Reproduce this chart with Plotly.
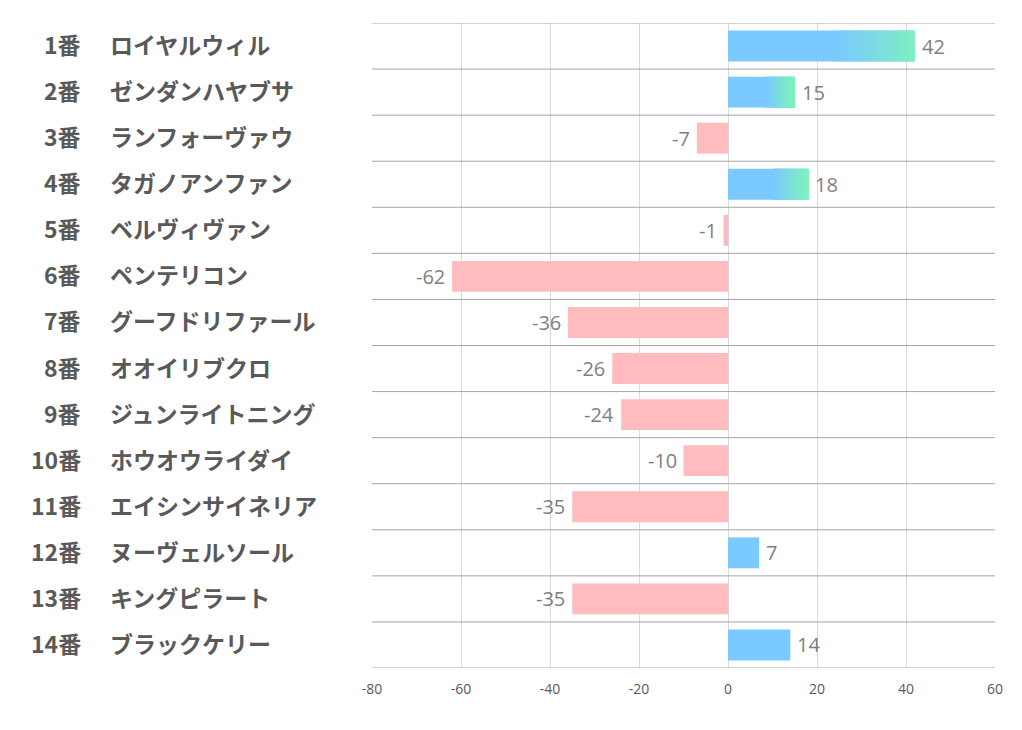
import plotly.graph_objects as go

numbers = ["1番", "2番", "3番", "4番", "5番", "6番", "7番", "8番", "9番", "10番", "11番", "12番", "13番", "14番"]
names = ["ロイヤルウィル", "ゼンダンハヤブサ", "ランフォーヴァウ", "タガノアンファン", "ベルヴィヴァン",
         "ペンテリコン", "グーフドリファール", "オオイリブクロ", "ジュンライトニング", "ホウオウライダイ",
         "エイシンサイネリア", "ヌーヴェルソール", "キングピラート", "ブラックケリー"]
values = [42, 15, -7, 18, -1, -62, -36, -26, -24, -10, -35, 7, -35, 14]
gradient_flag = [True, True, False, True, False, False, False, False, False, False, False, False, False, False]
x_ticks = [-80, -60, -40, -20, 0, 20, 40, 60]

BLUE = (122, 201, 255)
GREEN = (125, 243, 184)
PINK = "#FFBBBE"
BAR_W = 0.67

ypos = list(range(len(values)))
fig = go.Figure()

colors = ["rgb(%d,%d,%d)" % BLUE if v >= 0 else PINK for v in values]
fig.add_trace(go.Bar(
    y=ypos, x=values, orientation="h", width=BAR_W,
    marker=dict(color=colors, line=dict(width=0)),
    hoverinfo="skip", showlegend=False,
))

# gradient overlay segments for highlighted bars
N = 40
start_frac = 0.57
for i, (v, g) in enumerate(zip(values, gradient_flag)):
    if not g:
        continue
    seg_y, seg_x, seg_base, seg_c = [], [], [], []
    for k in range(N):
        f0 = start_frac + (1 - start_frac) * k / N
        f1 = start_frac + (1 - start_frac) * (k + 1) / N
        t = (k + 0.5) / N
        c = tuple(int(round(BLUE[j] + (GREEN[j] - BLUE[j]) * t)) for j in range(3))
        seg_y.append(i)
        seg_base.append(v * f0)
        seg_x.append(v * (f1 - f0) * 1.02)
        seg_c.append("rgb(%d,%d,%d)" % c)
    seg_x[-1] = v * (1 - (start_frac + (1 - start_frac) * (N - 1) / N))
    fig.add_trace(go.Bar(
        y=seg_y, x=seg_x, base=seg_base, orientation="h", width=BAR_W,
        marker=dict(color=seg_c, line=dict(width=0)),
        hoverinfo="skip", showlegend=False,
    ))

# value labels
for i, v in enumerate(values):
    fig.add_annotation(
        x=v, y=i, xref="x", yref="y", text=str(v), showarrow=False,
        xanchor="left" if v >= 0 else "right",
        xshift=5 if v >= 0 else -5,
        font=dict(family="Open Sans, Liberation Sans, sans-serif", size=20, color="#7F7F7F"),
    )

# category labels: number right-aligned, name left-aligned
for i, (n, nm) in enumerate(zip(numbers, names)):
    fig.add_annotation(
        x=-0.4639, y=i, xref="paper", yref="y", text="<b>%s</b>" % n, showarrow=False,
        xanchor="right", yshift=2, font=dict(family="Noto Sans CJK JP", size=23, color="#595959"),
    )
    fig.add_annotation(
        x=-0.4238, y=i, xref="paper", yref="y", text="<b>%s</b>" % nm, showarrow=False,
        xanchor="left", yshift=2, font=dict(family="Noto Sans CJK JP", size=23, color="#595959"),
    )

# row separator lines
for k in range(len(values) + 1):
    fig.add_shape(type="line", xref="paper", yref="y", x0=0, x1=1, y0=k - 0.5, y1=k - 0.5,
                  line=dict(color="#A6A6A6", width=1), layer="above")

fig.update_layout(
    width=1014, height=722,
    margin=dict(l=364, r=27, t=15, b=62),
    paper_bgcolor="white", plot_bgcolor="white",
    barmode="overlay",
    xaxis=dict(range=[-80, 60], tickvals=x_ticks, ticktext=[str(t) for t in x_ticks],
               showgrid=True, gridcolor="#D9D9D9", gridwidth=1, zeroline=True,
               zerolinecolor="#D9D9D9", zerolinewidth=1, showline=False,
               tickfont=dict(family="Open Sans, Liberation Sans, sans-serif", size=14, color="#595959"),
               ticks="", ticklabelstandoff=11),
    yaxis=dict(range=[len(values) - 0.5, -0.5], showticklabels=False, showgrid=False,
               zeroline=False, showline=False, ticks=""),
)

fig.write_html("out.html")
